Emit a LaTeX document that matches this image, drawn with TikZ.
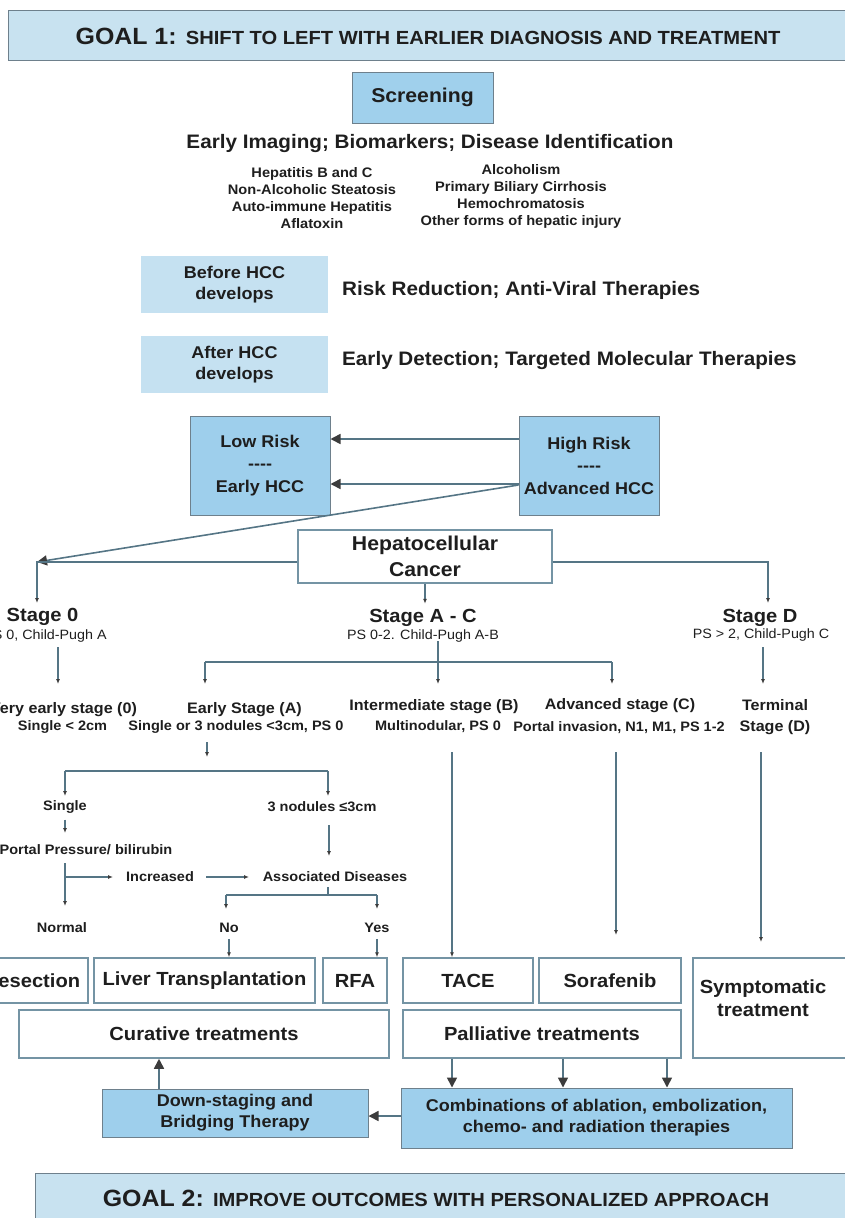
\documentclass[tikz,border=0pt]{standalone}
\usepackage{fontspec}
\setmainfont{Liberation Sans}[FakeStretch=1.06]
\usetikzlibrary{arrows.meta}
\newcommand\fsz[2]{\fontsize{#1}{#2}\selectfont}
\newcommand\fourdash{-{}-{}-{}-}
\definecolor{goalfill}{HTML}{C8E2F0}
\definecolor{goaldraw}{HTML}{6E808C}
\definecolor{screenfill}{HTML}{A0D0EC}
\definecolor{lightfill}{HTML}{C5E1F1}
\definecolor{riskfill}{HTML}{9ECFEC}
\definecolor{boxdraw}{HTML}{7494A4}
\definecolor{linecol}{HTML}{557585}
\definecolor{headcol}{HTML}{3C3C3C}
\definecolor{txtcol}{HTML}{1E1E1E}
\begin{document}
\begin{tikzpicture}[x=1pt,y=-1pt,
  txt/.style={inner sep=0pt, text=txtcol, font=\bfseries, align=center},
  goalbox/.style={draw=goaldraw, fill=goalfill, line width=1pt, inner sep=0pt},
  screenbox/.style={draw=goaldraw, fill=screenfill, line width=0.8pt, inner sep=0pt, text=txtcol, font=\bfseries, align=center},
  lightbox/.style={fill=lightfill, draw=none, inner sep=0pt, text=txtcol, font=\bfseries, align=center},
  riskbox/.style={draw=goaldraw, fill=riskfill, line width=1pt, inner sep=0pt, text=txtcol, font=\bfseries, align=center},
  whitebox/.style={draw=boxdraw, fill=white, line width=1.5pt, inner sep=0pt, text=txtcol, font=\bfseries, align=center},
  conn/.style={draw=linecol, line width=1.3pt, -{Latex[length=5pt,width=4pt,color=headcol]}},
  plain/.style={draw=linecol, line width=1.3pt},
  bigarrow/.style={draw=linecol, line width=1.6pt, -{Triangle[length=10pt,width=10pt,color=headcol]}},
]
\useasboundingbox (0,0) rectangle (845,1218);

% ---------- Goal 1 ----------
\node[goalbox, minimum width=870pt, minimum height=50pt, anchor=north west] (goal1) at (8,10) {};
\node[txt] (goal1t) at (428,36) {\fsz{23.5}{28}GOAL 1: \fsz{19}{23}SHIFT TO LEFT WITH EARLIER DIAGNOSIS AND TREATMENT};

% ---------- Screening ----------
\node[screenbox, minimum width=141pt, minimum height=51pt, font=\bfseries\fsz{20}{24}] (screen) at (422.5,97.5) {Screening};
\node[txt, font=\bfseries\fsz{19.5}{23}] (early) at (430,143) {Early Imaging; Biomarkers; Disease Identification};
\node[txt, font=\bfseries\fsz{13.8}{17}] (listl) at (312,198) {Hepatitis B and C\\Non-Alcoholic Steatosis\\Auto-immune Hepatitis\\Aflatoxin};
\node[txt, font=\bfseries\fsz{13.8}{17}] (listr) at (521,196) {Alcoholism\\Primary Biliary Cirrhosis\\Hemochromatosis\\Other forms of hepatic injury};

% ---------- Before / After ----------
\node[lightbox, minimum width=187pt, minimum height=57pt, font=\bfseries\fsz{17}{21}] (before) at (234.5,284.5) {Before HCC\\develops};
\node[txt, anchor=west, font=\bfseries\fsz{19.5}{23}] (riskred) at (342,290) {Risk Reduction; Anti-Viral Therapies};
\node[lightbox, minimum width=187pt, minimum height=57pt, font=\bfseries\fsz{17}{21}] (after) at (234.5,364.5) {After HCC\\develops};
\node[txt, anchor=west, font=\bfseries\fsz{19.5}{23}] (earlydet) at (342,360) {Early Detection; Targeted Molecular Therapies};

% ---------- Risk boxes ----------
\node[riskbox, minimum width=140pt, minimum height=99pt, font=\bfseries\fsz{17}{22.5}] (low) at (260,465.5) {Low Risk\\\fourdash\\Early HCC};
\node[riskbox, minimum width=140pt, minimum height=99pt, font=\bfseries\fsz{17}{22.5}] (high) at (589,465.5) {High Risk\\\fourdash\\Advanced HCC};
\draw[bigarrow] (high.west |- 0,439) -- (low.east |- 0,439);
\draw[bigarrow] (high.west |- 0,484) -- (low.east |- 0,484);

% ---------- HCC ----------
\node[whitebox, minimum width=254pt, minimum height=53pt, font=\bfseries\fsz{20}{26}] (hcc) at (425,556.5) {Hepatocellular\\Cancer};
\coordinate (lcorner) at (37,562);
\coordinate (rcorner) at (768,562);
\draw[bigarrow] (high.west |- 0,485) -- (lcorner);

% stage titles
\node[txt, font=\bfseries\fsz{19}{23}] (stage0) at (42.5,617) {Stage 0};
\node[txt, font=\mdseries\fsz{13.5}{16}] (stage0s) at (45,636) {PS 0, Child-Pugh A};
\node[txt, font=\bfseries\fsz{19}{23}] (stageAC) at (423,618) {Stage A - C};
\node[txt, font=\mdseries\fsz{13.5}{16}] (stageACs) at (423,636) {PS 0-2. Child-Pugh A-B};
\node[txt, font=\bfseries\fsz{19}{23}] (stageD) at (760,618) {Stage D};
\node[txt, font=\mdseries\fsz{13.5}{16}] (stageDs) at (761,635) {PS > 2, Child-Pugh C};

\draw[conn] (hcc.west |- lcorner) -- (lcorner) -- (37,603);
\draw[conn] (hcc.east |- rcorner) -- (rcorner) -- (768,603);
\draw[conn] (hcc.south) -- ++(0,20);

% stage rows
\node[txt, font=\bfseries\fsz{15.2}{18}] (vearly) at (63.5,710) {Very early stage (0)};
\node[txt, font=\bfseries\fsz{13.7}{16}] (vearlys) at (62.5,727) {Single < 2cm};
\node[txt, font=\bfseries\fsz{15.2}{18}] (earlyA) at (244.5,710) {Early Stage (A)};
\node[txt, font=\bfseries\fsz{13.7}{16}] (earlyAs) at (236,727) {Single or 3 nodules <3cm, PS 0};
\node[txt, font=\bfseries\fsz{15.2}{18}] (interB) at (434,707) {Intermediate stage (B)};
\node[txt, font=\bfseries\fsz{13.7}{16}] (interBs) at (438,727) {Multinodular, PS 0};
\node[txt, font=\bfseries\fsz{15.2}{18}] (advC) at (620,706) {Advanced stage (C)};
\node[txt, font=\bfseries\fsz{13.7}{16}] (advCs) at (619,728) {Portal invasion, N1, M1, PS 1-2};
\node[txt, font=\bfseries\fsz{15.2}{21}] (term) at (775,717.5) {Terminal\\Stage (D)};

\draw[conn] (58,647) -- (58,684);
\draw[conn] (763,647) -- (763,684);
\draw[conn] (438,641) -- (438,684);
\coordinate (acbarl) at (205,662);
\coordinate (acbarr) at (612,662);
\draw[plain] (acbarl) -- (acbarr);
\draw[conn] (acbarl) -- (205,684);
\draw[conn] (acbarr) -- (612,684);

% early stage sub tree
\draw[conn] (207,742) -- (207,757);
\coordinate (ebarl) at (65,771);
\coordinate (ebarr) at (328,771);
\draw[plain] (ebarl) -- (ebarr);
\draw[conn] (ebarl) -- (65,796);
\draw[conn] (ebarr) -- (328,796);
\node[txt, font=\bfseries\fsz{13.7}{16}] (single) at (65,807) {Single};
\node[txt, font=\bfseries\fsz{13.7}{16}] (nod3) at (322,807) {3 nodules ≤3cm};
\draw[conn] (single.south) ++(0,6) -- (65,833);
\node[txt, font=\bfseries\fsz{13.7}{16}] (portal) at (86,850) {Portal Pressure/ bilirubin};
\draw[conn] (65,863) -- (65,906);
\draw[conn] (65,877) -- (113,877);
\node[txt, font=\bfseries\fsz{13.7}{16}] (incr) at (160,877) {Increased};
\draw[conn] (incr.east) ++(12,0) -- (249,877);
\node[txt, font=\bfseries\fsz{13.7}{16}] (assoc) at (335,877) {Associated Diseases};
\draw[conn] (329,825) -- (329,856);
\draw[plain] (328,887) -- (328,895);
\coordinate (abarl) at (226,895);
\coordinate (abarr) at (377,895);
\draw[plain] (abarl) -- (abarr);
\draw[conn] (abarl) -- (226,909);
\draw[conn] (abarr) -- (377,909);
\node[txt, font=\bfseries\fsz{13.7}{16}] (normal) at (62,928) {Normal};
\node[txt, font=\bfseries\fsz{13.7}{16}] (no) at (229,928) {No};
\node[txt, font=\bfseries\fsz{13.7}{16}] (yes) at (377,928) {Yes};

% bottom treatment boxes
\node[whitebox, minimum width=112pt, minimum height=45pt, font=\bfseries\fsz{19}{23}] (resect) at (32,980.5) {Resection};
\node[whitebox, minimum width=221pt, minimum height=45pt, font=\bfseries\fsz{19}{23}] (lt) at (204.5,980.5) {Liver Transplantation};
\node[whitebox, minimum width=64pt, minimum height=45pt, font=\bfseries\fsz{19}{23}] (rfa) at (355,980.5) {RFA};
\node[whitebox, minimum width=130pt, minimum height=45pt, font=\bfseries\fsz{19}{23}] (tace) at (468,980.5) {TACE};
\node[whitebox, minimum width=142pt, minimum height=45pt, font=\bfseries\fsz{19}{23}] (sora) at (610,980.5) {Sorafenib};
\node[whitebox, minimum width=170pt, minimum height=100pt, anchor=north west] (sympt) at (692,957) {};
\node[txt, font=\bfseries\fsz{19}{23}] (symptt) at (763,998.5) {Symptomatic\\treatment};

\draw[conn] (no.south) ++(0,6) -- (lt.north -| 229,0);
\draw[conn] (yes.south) ++(0,6) -- (rfa.north -| 377,0);
\draw[conn] (452,752) -- (tace.north -| 452,0);
\draw[conn] (616,752) -- (616,935);
\draw[conn] (761,752) -- (761,942);

\node[whitebox, minimum width=370pt, minimum height=48pt, font=\bfseries\fsz{19}{23}] (cur) at (204,1034) {Curative treatments};
\node[whitebox, minimum width=278pt, minimum height=48pt, font=\bfseries\fsz{19}{23}] (pall) at (542,1034) {Palliative treatments};

\node[riskbox, minimum width=391pt, minimum height=60pt, font=\bfseries\fsz{17}{21}] (combo) at (596.5,1118) {Combinations of ablation, embolization,\\chemo- and radiation therapies};
\node[riskbox, minimum width=266pt, minimum height=48pt, font=\bfseries\fsz{17}{21}] (down) at (235,1113) {Down-staging and\\Bridging Therapy};

\draw[bigarrow] (pall.south -| 452,0) -- (combo.north -| 452,0);
\draw[bigarrow] (pall.south -| 563,0) -- (combo.north -| 563,0);
\draw[bigarrow] (pall.south -| 667,0) -- (combo.north -| 667,0);
\draw[bigarrow] (combo.west |- 0,1116) -- (down.east |- 0,1116);
\draw[bigarrow] (down.north -| 159,0) -- (cur.south -| 159,0);

% ---------- Goal 2 ----------
\node[goalbox, minimum width=840pt, minimum height=70pt, anchor=north west] (goal2) at (35,1173) {};
\node[txt] (goal2t) at (436,1198) {\fsz{23.5}{28}GOAL 2: \fsz{19}{23}IMPROVE OUTCOMES WITH PERSONALIZED APPROACH};
\end{tikzpicture}
\end{document}
